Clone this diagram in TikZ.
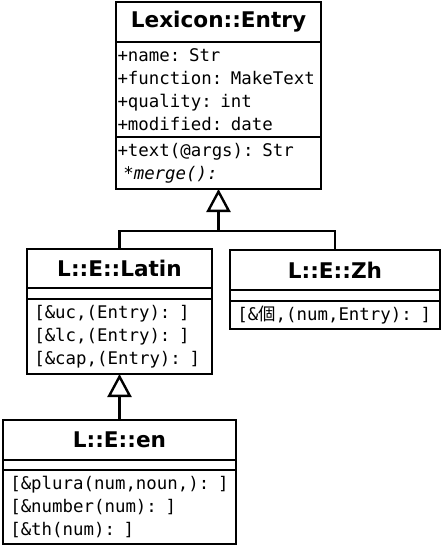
\documentclass[tikz,border=0pt]{standalone}
\usepackage{fontspec}
\setmainfont{DejaVu Sans}
\setmonofont{DejaVu Sans Mono}
\newfontfamily\cjk{Noto Sans CJK TC}
\usetikzlibrary{arrows.meta}

\tikzset{
  uml/.style={draw,line width=2.6pt,anchor=north west,inner xsep=1.5pt,inner ysep=0pt,outer sep=0pt},
  umltitle/.style={uml,font=\fontsize{21.6}{25}\selectfont\bfseries},
  umlbody/.style={uml,font=\fontsize{17.4}{23}\selectfont\ttfamily,align=left},
  umlline/.style={line width=2.4pt},
  isa/.style={umlline,-{Triangle[open,length=23pt 0 1,width=24pt 0 1]}}
}

\begin{document}
\begin{tikzpicture}[x=1pt,y=-1pt]
  \useasboundingbox (0,0) rectangle (444,547);
  % Base class on top
  \node[umltitle,minimum width=205pt,minimum height=40pt] (entry)      at (116,2)   {Lexicon::Entry};
  \node[umlbody,text width=202pt,minimum height=95pt]     (entry-attr) at (116,42)  {+name: Str\\+function: MakeText\\+quality: int\\+modified: date};
  \node[umlbody,text width=202pt,minimum height=52pt]     (entry-ops)  at (116,137) {+text(@args): Str\\~\textit{*merge():}};
  % Sub classes
  \node[umltitle,minimum width=185pt,minimum height=39pt] (latin)      at (27,249)  {L::E::Latin};
  \node[uml,minimum width=185pt,minimum height=11pt]      (latin-attr) at (27,288)  {};
  \node[umlbody,text width=182pt,minimum height=75pt]     (latin-ops)  at (27,299)  {~[\&uc,(Entry): ]\\~[\&lc,(Entry): ]\\~[\&cap,(Entry): ]};
  \node[umltitle,minimum width=210pt,minimum height=40pt] (zh)         at (230,250) {L::E::Zh};
  \node[uml,minimum width=210pt,minimum height=11pt]      (zh-attr)    at (230,290) {};
  \node[umlbody,text width=207pt,minimum height=28pt]     (zh-ops)     at (230,301) {~[\&{\cjk 個},(num,Entry): ]};
  \node[umltitle,minimum width=233pt,minimum height=40pt] (en)         at (3,420)   {L::E::en};
  \node[uml,minimum width=233pt,minimum height=10pt]      (en-attr)    at (3,460)   {};
  \node[umlbody,text width=230pt,minimum height=74pt]     (en-ops)     at (3,470)   {~[\&plura(num,noun,): ]\\~[\&number(num): ]\\~[\&th(num): ]};
  % Inheritance
  \path (entry-ops.south) ++(0,42) coordinate (fork);
  \draw[umlline] (latin.north) |- (fork) -| (zh.north);
  \draw[isa] (fork) -- (entry-ops.south);
  \draw[isa] (en.north) -- (latin-ops.south);
\end{tikzpicture}
\end{document}
